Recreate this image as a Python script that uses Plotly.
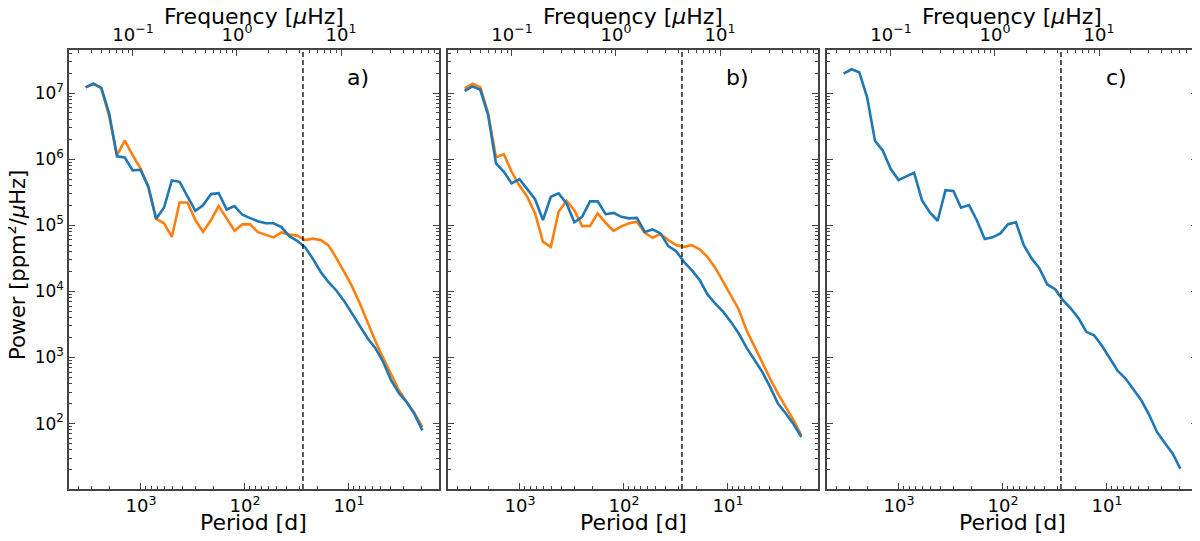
import plotly.graph_objects as go

# Period grid [d] (shared by all panels)
period = [3404, 2862, 2407, 2024, 1701, 1430, 1203, 1011, 850, 715,
          601, 505, 425, 357, 300, 253, 212, 179, 150, 126,
          106, 89.3, 75.1, 63.1, 53.1, 44.6, 37.5, 31.5, 26.5, 22.3,
          18.7, 15.8, 13.3, 11.1, 9.37, 7.88, 6.63, 5.57, 4.68, 3.94,
          3.31, 2.78, 2.34, 1.97]

# panel a)
pow_a_orange = [1.22e7, 1.38e7, 1.19e7, 4.47e6, 1.15e6, 1.90e6, 1.15e6, 7.24e5, 3.82e5, 1.25e5,
                1.07e5, 6.68e4, 2.21e5, 2.21e5, 1.20e5, 7.94e4, 1.20e5, 1.95e5, 1.27e5, 8.24e4,
                1.03e5, 1.03e5, 7.87e4, 7.08e4, 6.55e4, 7.78e4, 7.26e4, 6.97e4, 5.96e4, 6.27e4,
                5.96e4, 5.00e4, 3.24e4, 1.95e4, 1.20e4, 6.62e3, 3.41e3, 1.76e3, 973, 557,
                319, 210, 143, 88]
pow_a_blue = [1.22e7, 1.38e7, 1.20e7, 4.93e6, 1.10e6, 1.06e6, 6.76e5, 6.90e5, 3.82e5, 1.25e5,
              1.84e5, 4.76e5, 4.54e5, 2.79e5, 1.65e5, 2.00e5, 2.96e5, 3.06e5, 1.73e5, 1.95e5,
              1.44e5, 1.28e5, 1.15e5, 1.07e5, 1.07e5, 9.38e4, 6.84e4, 5.81e4, 4.67e4, 3.13e4,
              1.96e4, 1.39e4, 1.04e4, 7.10e3, 4.68e3, 2.97e3, 1.95e3, 1.38e3, 847, 452,
              288, 210, 138, 79]

# panel b)
pow_b_orange = [1.18e7, 1.38e7, 1.23e7, 4.93e6, 1.06e6, 1.19e6, 6.44e5, 3.95e5, 2.69e5, 1.51e5,
                5.61e4, 4.71e4, 1.60e5, 2.34e5, 1.69e5, 9.70e4, 9.79e4, 1.51e5, 1.09e5, 8.24e4,
                9.60e4, 1.07e5, 1.13e5, 7.67e4, 6.46e4, 7.35e4, 5.96e4, 5.00e4, 4.71e4, 5.00e4,
                4.31e4, 3.33e4, 2.30e4, 1.39e4, 8.45e3, 5.32e3, 2.58e3, 1.45e3, 857, 480,
                284, 178, 112, 66.5]
pow_b_blue = [1.08e7, 1.26e7, 1.12e7, 4.65e6, 8.63e5, 6.44e5, 4.30e5, 4.99e5, 3.52e5, 2.46e5,
              1.20e5, 2.69e5, 3.03e5, 2.14e5, 1.11e5, 1.34e5, 2.30e5, 2.30e5, 1.47e5, 1.54e5,
              1.34e5, 1.27e5, 1.29e5, 7.94e4, 8.65e4, 7.52e4, 4.83e4, 4.06e4, 2.79e4, 2.09e4,
              1.48e4, 9.06e3, 6.55e3, 4.89e3, 3.45e3, 2.30e3, 1.41e3, 908, 604, 358,
              201, 142, 97.5, 62.7]

# panel c)
pow_c_blue = [1.96e7, 2.29e7, 2.06e7, 8.61e6, 1.90e6, 1.34e6, 7.14e5, 4.82e5, 5.48e5, 6.22e5,
              2.40e5, 1.56e5, 1.17e5, 3.40e5, 3.29e5, 1.84e5, 2.02e5, 1.20e5, 6.17e4, 6.55e4,
              7.52e4, 1.04e5, 1.11e5, 5.00e4, 3.15e4, 2.22e4, 1.27e4, 1.08e4, 7.36e3, 5.51e3,
              3.88e3, 2.44e3, 2.17e3, 1.48e3, 964, 625, 480, 327, 225, 137,
              74.6, 50.8, 35.2, 20.8]

panel_labels = ["a)", "b)", "c)"]
marker_period = 27.7

period_ticks = [1000, 100, 10]
period_ticktext = ["10<sup>3</sup>", "10<sup>2</sup>", "10<sup>1</sup>"]
freq_ticks = [0.1, 1, 10]
freq_ticktext = ["10<sup>−1</sup>", "10<sup>0</sup>", "10<sup>1</sup>"]
power_ticks = [1e2, 1e3, 1e4, 1e5, 1e6, 1e7]
power_ticktext = ["10<sup>2</sup>", "10<sup>3</sup>", "10<sup>4</sup>",
                  "10<sup>5</sup>", "10<sup>6</sup>", "10<sup>7</sup>"]

BLUE = "#1f77b4"
ORANGE = "#ff7f0e"
SPINE = "#444444"
W, H = 1200, 541
OFF = 8  # page body margin shifts the figure
FONT = "DejaVu Sans"


def px(x):
    return (x - OFF) / W


def py(y):
    return 1 - (y - OFF) / H


# panel pixel boxes (left, right) in reference pixels
panels_px = [(69, 439), (448, 818), (827, 1197)]
top_px, bottom_px = 50, 489

series = [
    [(pow_a_orange, ORANGE), (pow_a_blue, BLUE)],
    [(pow_b_orange, ORANGE), (pow_b_blue, BLUE)],
    [(pow_c_blue, BLUE)],
]

fig = go.Figure()

for k, lines in enumerate(series):
    xa = "x" if k == 0 else "x%d" % (k + 1)
    ya = "y" if k == 0 else "y%d" % (k + 1)
    for vals, col in lines:
        fig.add_trace(go.Scatter(x=period, y=vals, mode="lines", xaxis=xa, yaxis=ya,
                                 line=dict(color=col, width=2.6), showlegend=False))
    # empty trace so the top frequency axis gets drawn
    fig.add_trace(go.Scatter(x=freq_ticks, y=[None] * len(freq_ticks), mode="lines",
                             xaxis="x%d" % (k + 4), yaxis=ya, showlegend=False,
                             hoverinfo="skip"))

ydom = [py(bottom_px), py(top_px)]
tickfont = dict(family=FONT, size=18, color="black")
minor = dict(ticks="inside", ticklen=3, tickcolor=SPINE, dtick="D1", showgrid=False)

layout = dict(
    width=W, height=H,
    margin=dict(l=0, r=0, t=0, b=0),
    plot_bgcolor="white", paper_bgcolor="white",
    font=dict(family=FONT, color="black"),
)

for k, (l, r) in enumerate(panels_px):
    n = k + 1
    dom = [px(l), px(r)]
    xkey = "xaxis" if n == 1 else "xaxis%d" % n
    ykey = "yaxis" if n == 1 else "yaxis%d" % n
    ya = "y" if n == 1 else "y%d" % n
    xa = "x" if n == 1 else "x%d" % n
    layout[xkey] = dict(
        type="log", domain=dom, anchor=ya, range=[3.692, 0.1346],
        tickmode="array", tickvals=period_ticks, ticktext=period_ticktext,
        ticks="inside", ticklen=6, tickwidth=1.2, tickcolor=SPINE,
        minor=minor, showgrid=False, zeroline=False,
        showline=True, linecolor=SPINE, linewidth=1.5, mirror=False,
        tickfont=tickfont, automargin=False,
    )
    layout[ykey] = dict(
        type="log", domain=ydom, anchor=xa, range=[1.01, 7.651],
        tickmode="array", tickvals=power_ticks, ticktext=power_ticktext,
        showticklabels=(n == 1),
        ticks="inside", ticklen=6, tickwidth=1.2, tickcolor=SPINE,
        minor=minor, showgrid=False, zeroline=False,
        showline=True, linecolor=SPINE, linewidth=1.5, mirror="ticks",
        tickfont=dict(family=FONT, size=17, color="black"), automargin=False,
    )
    tkey = "xaxis%d" % (n + 3)
    layout[tkey] = dict(
        type="log", overlaying=xa, anchor=ya, side="top", range=[-1.615, 1.942],
        tickmode="array", tickvals=freq_ticks, ticktext=freq_ticktext,
        ticks="inside", ticklen=6, tickwidth=1.2, tickcolor=SPINE,
        minor=minor, showgrid=False, zeroline=False,
        showline=True, linecolor=SPINE, linewidth=1.5,
        tickfont=tickfont, automargin=False,
    )

fig.update_layout(**layout)

annotations = []
for k, (l, r) in enumerate(panels_px):
    xa = "x" if k == 0 else "x%d" % (k + 1)
    fig.add_shape(type="line", xref=xa, yref="paper", x0=marker_period, x1=marker_period,
                  y0=ydom[0], y1=ydom[1], line=dict(color="black", width=1.3, dash="5px,3px"))
    cx = px((l + r) / 2)
    annotations.append(dict(text="Period [d]", x=cx, y=py(522), xref="paper", yref="paper",
                            xanchor="center", yanchor="middle", showarrow=False,
                            font=dict(family=FONT, size=22)))
    annotations.append(dict(text="Frequency [<i>μ</i>Hz]", x=cx, y=py(17), xref="paper",
                            yref="paper", xanchor="center", yanchor="middle", showarrow=False,
                            font=dict(family=FONT, size=22)))
    annotations.append(dict(text=panel_labels[k], x=px(l + 289), y=py(77), xref="paper",
                            yref="paper", xanchor="center", yanchor="middle", showarrow=False,
                            font=dict(family=FONT, size=22)))

annotations.append(dict(text="Power [ppm<sup>2</sup>/<i>μ</i>Hz]", x=px(16), y=py(265),
                        xref="paper", yref="paper", xanchor="center", yanchor="middle",
                        showarrow=False, textangle=-90, font=dict(family=FONT, size=21)))
fig.update_layout(annotations=annotations)

fig.write_html("out.html")
